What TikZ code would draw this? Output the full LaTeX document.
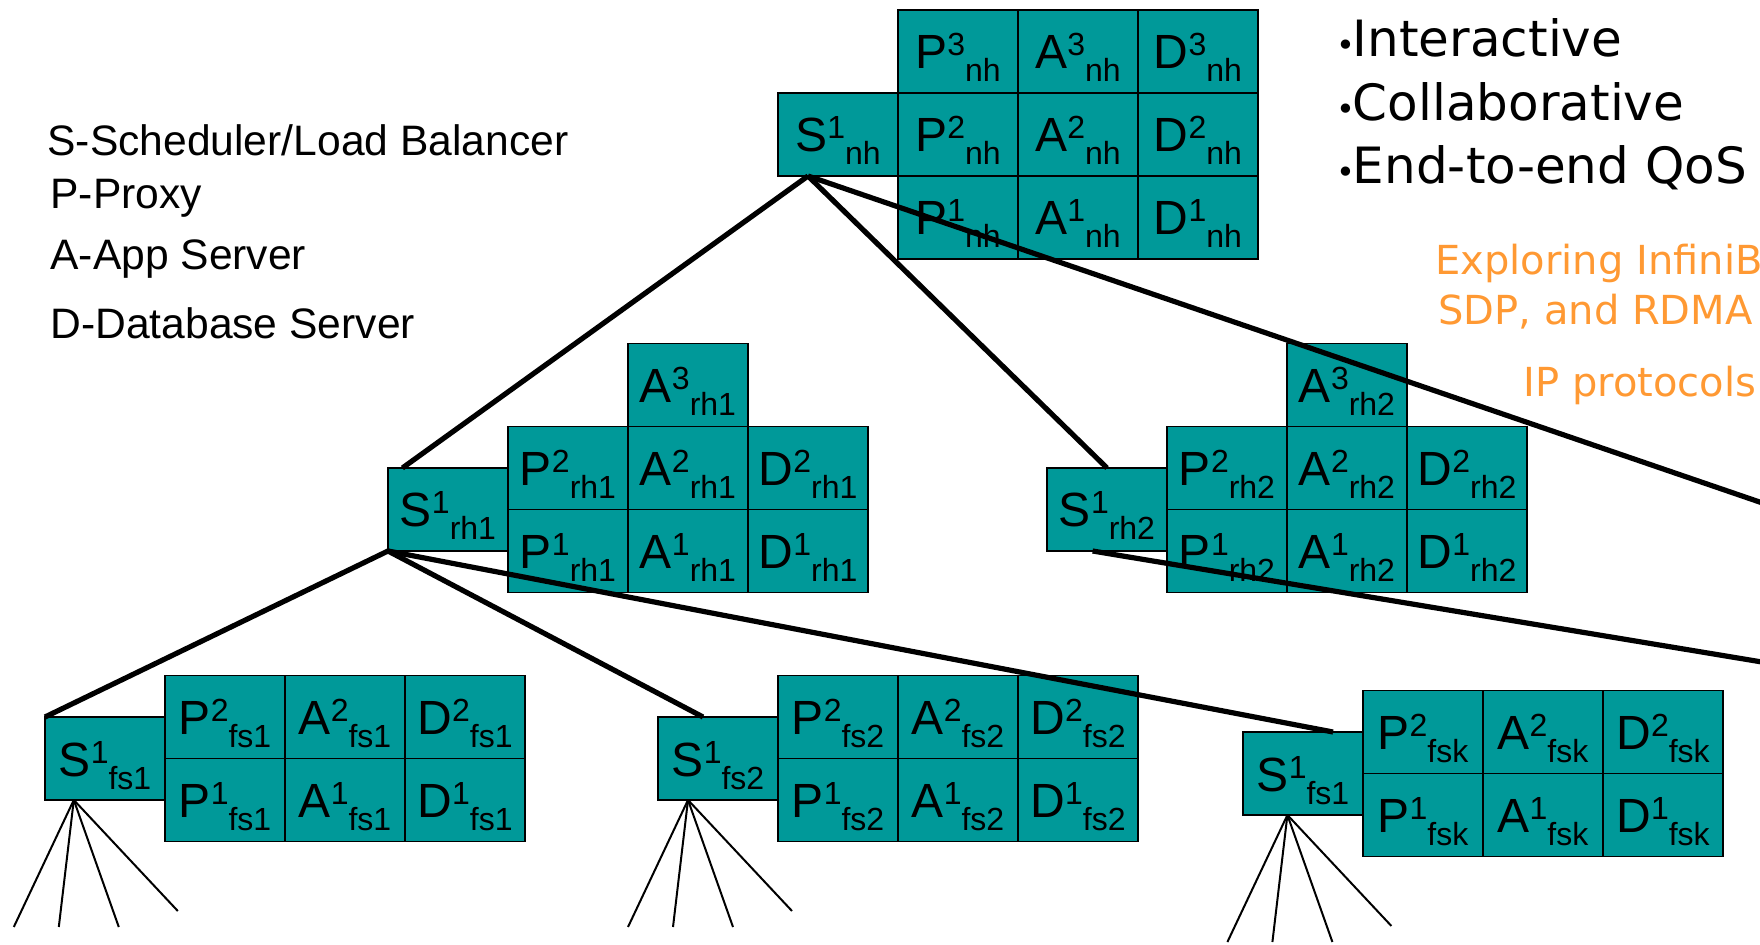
\documentclass[tikz,border=0pt]{standalone}
\usepackage{fontspec}
\setmainfont{Liberation Sans}
\newfontfamily\handfont{DejaVu Sans}
\usetikzlibrary{calc}
\definecolor{srvteal}{HTML}{009999}
\definecolor{notes}{HTML}{FF9933}
% server label: letter, replica number, site
\newcommand{\srv}[3]{#1\raisebox{6.5pt}{\fontsize{16}{18}\selectfont#2}\raisebox{-6.5pt}{\fontsize{16}{18}\selectfont#3}}
\tikzset{
  cell/.style={draw=black, line width=.8pt, fill=srvteal, inner sep=0pt, outer sep=0pt,
    minimum width=60pt, minimum height=41.5pt, text height=29.5pt, text depth=12pt,
    font=\fontsize{24}{28}\selectfont},
  tier/.style={line width=2.6pt},
  fan/.style={line width=1pt},
  legend/.style={anchor=base west, inner sep=0pt, font=\fontsize{21.3}{25}\selectfont},
  goal/.style={anchor=base west, inner sep=0pt, font=\handfont\fontsize{25}{29}\selectfont},
  note/.style={anchor=base west, inner sep=0pt, text=notes, font=\handfont\fontsize{20}{24}\selectfont}
}

\begin{document}
\begin{tikzpicture}[x=.5pt,y=-.5pt]
\useasboundingbox (0,0) rectangle (1760,945);
\clip (0,0) rectangle (1760,945);

% top site
\node[cell, anchor=north west] (S-nh) at (778,93) {\srv{S}{1}{nh}};
\foreach \c [count=\i from 0] in {P,A,D}
  \foreach \r in {1,2,3}
    \node[cell, anchor=west] (\c\r-nh) at ($(S-nh.east)+({120*\i},{83*(2-\r)})$) {\srv{\c}{\r}{nh}};

% regional sites
\foreach \t/\x in {rh1/388,rh2/1047} {
  \node[cell, anchor=north west] (S-\t) at (\x,468) {\srv{S}{1}{\t}};
  \foreach \c/\i/\r in {P/0/1,P/0/2,A/1/1,A/1/2,A/1/3,D/2/1,D/2/2}
    \node[cell, anchor=north west] (\c\r-\t) at ($(S-\t.east)+({120*\i},{-83*(\r-1)})$) {\srv{\c}{\r}{\t}};
}

% front sites
\foreach \t/\x/\y/\s in {fs1/45/717/fs1,fs2/658/717/fs2,fsk/1243/732/fs1} {
  \node[cell, anchor=north west] (S-\t) at (\x,\y) {\srv{S}{1}{\s}};
  \foreach \c [count=\i from 0] in {P,A,D}
    \foreach \r in {1,2}
      \node[cell, anchor=north west] (\c\r-\t) at ($(S-\t.east)+({120*\i},{-83*(\r-1)})$) {\srv{\c}{\r}{\t}};
}

% links between the schedulers
\coordinate (nh-root) at ($(S-nh.south west)!.25!(S-nh.south east)$);
\coordinate (rh2-root) at ($(S-rh2.south west)!.38!(S-rh2.south east)$);
\coordinate (nh-exit) at (1780,509);
\coordinate (rh2-exit) at (1780,665);
\draw[tier] (nh-root) -- ($(S-rh1.north west)!.12!(S-rh1.north east)$);
\draw[tier] (nh-root) -- (S-rh2.north);
\draw[tier] (nh-root) -- (nh-exit);
\draw[tier] (S-rh1.south west) -- (S-fs1.north west);
\draw[tier] (S-rh1.south west) -- ($(S-fs2.north west)!.375!(S-fs2.north east)$);
\draw[tier] (S-rh1.south west) -- ($(S-fsk.north west)!.75!(S-fsk.north east)$);
\draw[tier] (rh2-root) -- (rh2-exit);

% clients below each front site
\foreach \t/\f in {fs1/.24,fs2/.25,fsk/.37} {
  \coordinate (\t-root) at ($(S-\t.south west)!\f!(S-\t.south east)$);
  \foreach \dx/\dy in {-60/127,-15/127,45/127,104/111}
    \draw[fan] (\t-root) -- ++(\dx,\dy);
}

% key
\node[legend] (key-S) at (47,156) {S-Scheduler/Load Balancer};
\node[legend] (key-P) at (50,209) {P-Proxy};
\node[legend] (key-A) at (50,270) {A-App Server};
\node[legend] (key-D) at (50,339) {D-Database Server};

\foreach \txt [count=\k from 0] in {Interactive,Collaborative,End-to-end QoS}
  \node[goal] (goal-\k) at (1336,{57+63.5*\k}) {\makebox[.33em][l]{\fontsize{16}{16}\selectfont•}\txt};

\node[note] (note-1) at (1435,275) {Exploring InfiniB};
\node[note] (note-2) at (1438,325) {SDP, and RDMA};
\node[note] (note-3) at (1523,397) {IP protocols};
\end{tikzpicture}
\end{document}
